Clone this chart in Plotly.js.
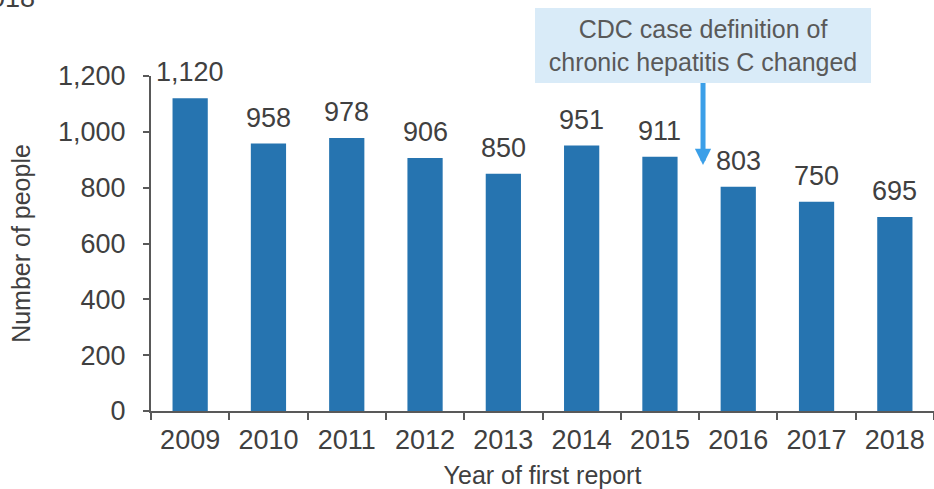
<!DOCTYPE html>
<html>
<head>
<meta charset="utf-8">
<script src="https://cdn.plot.ly/plotly-3.0.1.min.js"></script>
<style>html,body{margin:0;padding:0;overflow:hidden;background:#fff}#chart{width:934px;height:489px}</style>
</head>
<body>
<div id="chart"></div>
<script>
const years = ['2009','2010','2011','2012','2013','2014','2015','2016','2017','2018'];
const people = [1120, 958, 978, 906, 850, 951, 911, 803, 750, 695];
const yTicks = [0, 200, 400, 600, 800, 1000, 1200];
const yTickLabels = ['0', '200', '400', '600', '800', '1,000', '1,200'];
const noteText = 'CDC case definition of<br>chronic hepatitis C changed';
const titleFragment = '2018';

const FONT = '"Liberation Sans", Arial, sans-serif';
const TXT = '#404040';

const labelAnns = years.map((y, i) => ({
  x: i, y: people[i], xref: 'x', yref: 'y',
  text: people[i].toLocaleString('en-US'),
  showarrow: false, yanchor: 'middle', yshift: 26,
  font: {family: FONT, size: 27, color: TXT}
}));

const trace = {
  type: 'bar', x: years, y: people,
  marker: {color: '#2674b0', line: {width: 0}},
  hoverinfo: 'skip'
};

const layout = {
  width: 934, height: 489,
  margin: {l: 151, r: 0, t: 76, b: 78, pad: 0},
  paper_bgcolor: '#ffffff', plot_bgcolor: '#ffffff',
  bargap: 0.55,
  showlegend: false,
  font: {family: FONT, color: TXT},
  xaxis: {
    type: 'category', range: [-0.5, 9.5], autorange: false,
    categoryorder: 'array', categoryarray: years,
    showline: true, linecolor: '#595959', linewidth: 2,
    ticks: 'outside', tickson: 'boundaries', ticklen: 7, tickwidth: 2, tickcolor: '#595959',
    tickangle: 0, ticklabelstandoff: 4,
    tickfont: {family: FONT, size: 27, color: TXT},
    showgrid: false, zeroline: false,
    title: {text: 'Year of first report', font: {family: FONT, size: 25, color: TXT}, standoff: 19},
    automargin: false
  },
  yaxis: {
    range: [0, 1200], autorange: false,
    tickvals: yTicks, ticktext: yTickLabels,
    showline: true, linecolor: '#595959', linewidth: 2,
    ticks: 'outside', ticklen: 6, tickwidth: 2, tickcolor: '#595959',
    ticklabelstandoff: 12,
    tickfont: {family: FONT, size: 27, color: TXT},
    showgrid: false, zeroline: false,
    title: {text: 'Number of people', font: {family: FONT, size: 25, color: TXT}, standoff: 20},
    automargin: false
  },
  annotations: labelAnns.concat([
    {
      x: 6.55, y: 881, xref: 'x', yref: 'y',
      ax: 0, ay: -119.5, axref: 'pixel', ayref: 'pixel',
      text: noteText, showarrow: true,
      arrowhead: 2, arrowsize: 0.65, arrowwidth: 5, arrowcolor: '#3b9fe8',
      bgcolor: '#d9ebf8', borderpad: 0, borderwidth: 0,
      width: 336, height: 75, align: 'center',
      font: {family: FONT, size: 25, color: '#595959'}
    },
    {
      x: (37 - 151) / 783, y: (411 + 2) / 335, xref: 'paper', yref: 'paper',
      xanchor: 'right', yanchor: 'middle',
      text: titleFragment, showarrow: false,
      font: {family: FONT, size: 27, color: TXT}
    }
  ])
};

Plotly.newPlot('chart', [trace], layout, {displayModeBar: false, staticPlot: true});
</script>
</body>
</html>
